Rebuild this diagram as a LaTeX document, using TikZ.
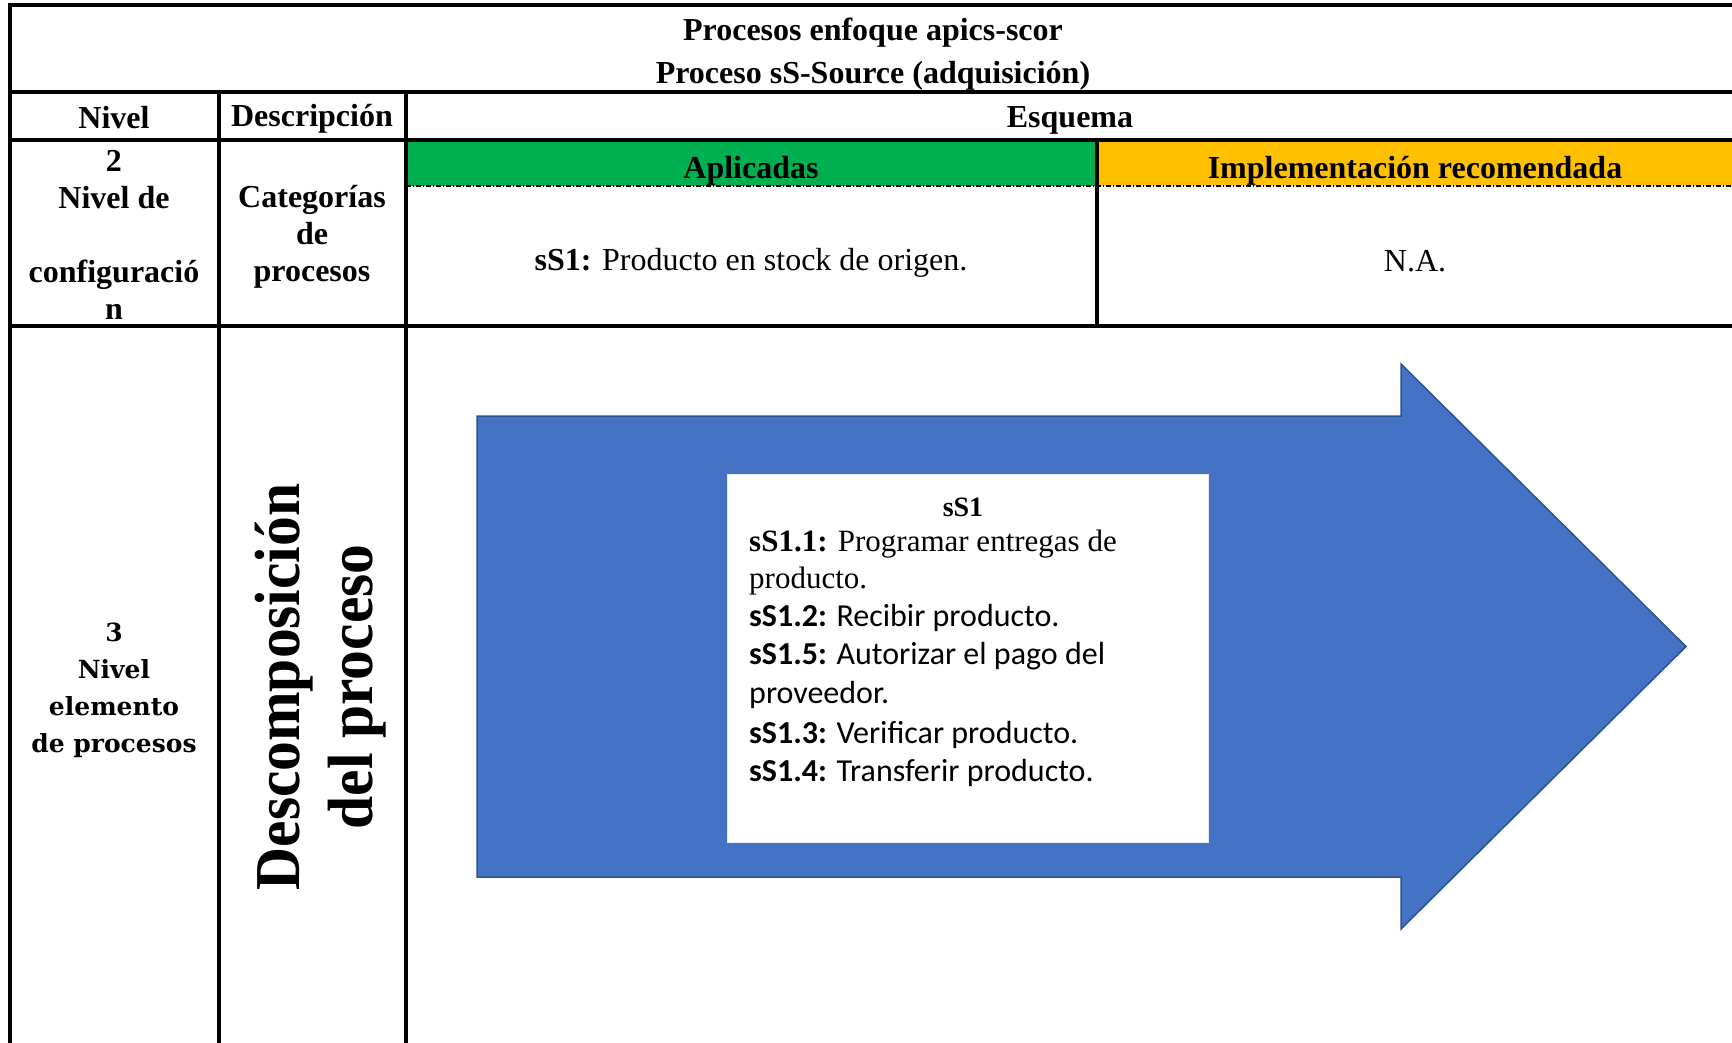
\documentclass[tikz,border=0pt]{standalone}
\usepackage{fontspec}
\usepackage{graphicx}
\setmainfont{Liberation Serif}
\newfontfamily\stepsans{Carlito}
\newfontfamily\wideserif{DejaVu Serif}
\definecolor{appgreen}{HTML}{00B050}
\definecolor{recorange}{HTML}{FFC000}
\definecolor{flowblue}{HTML}{4472C4}
\definecolor{flowedge}{HTML}{2F528F}

\begin{document}
\begin{tikzpicture}[x=1pt,y=-1pt,
  grid/.style={line width=3.5pt, line cap=rect},
  cell/.style={font=\fontsize{32}{37}\selectfont\bfseries, align=center, inner sep=0pt},
  plain/.style={font=\fontsize{32}{37}\selectfont, align=center, inner sep=0pt},
  levelcell/.style={font=\wideserif\fontsize{25}{37}\selectfont\bfseries, align=center, inner sep=0pt},
  bigcell/.style={font=\fontsize{64}{73}\selectfont\bfseries, align=center, inner sep=0pt, rotate=90},
  stepline/.style={anchor=base west, inner sep=0pt, font=\stepsans\fontsize{32}{38}\selectfont},
  serifline/.style={anchor=base west, inner sep=0pt, font=\fontsize{31}{38}\selectfont},
]
\useasboundingbox (0,0) rectangle (1732,1043);
\clip (0,0) rectangle (1732,1043);
\fill[white] (0,0) rectangle (1732,1043);

% coloured header bars of the Esquema column
\fill[appgreen] (406,140) rectangle (1097,186);
\fill[recorange] (1097,140) rectangle (1745,186);
\draw[line width=1.2pt, dash pattern=on 5pt off 2pt on 1pt off 2pt] (406,186) -- (1745,186);

% table rules
\draw[grid] (10,1060) -- (10,5) -- (1745,5);
\draw[grid] (10,92) -- (1745,92);
\draw[grid] (10,140) -- (1745,140);
\draw[grid] (10,326) -- (1745,326);
\draw[grid] (219,92) -- (219,1060);
\draw[grid] (406,92) -- (406,1060);
\draw[grid] (1097,140) -- (1097,326);

% title
\node[cell] (title1) at (873,33) {Procesos enfoque apics-scor};
\node[cell] (title2) at (873,76) {Proceso sS-Source (adquisición)};

% column headers
\node[cell] (hnivel) at (114,118) {Nivel};
\node[cell] (hdesc) at (312,119) {Descripción};
\node[cell] (hesq) at (1070,120) {Esquema};
\node[cell] (happ) at (751,171) {Aplicadas};
\node[cell] (himp) at (1415,171) {Implementación recomendada};

% level 2 row
\node[cell] (lvl2) at (114,235) {2\\Nivel de\\\mbox{}\\configuració\\n};
\node[cell] (cat2) at (312,237) {Categorías\\de\\procesos};
\node[plain] (app2) at (751,263) {\textbf{sS1:} Producto en stock de origen.};
\node[plain] (imp2) at (1415,261) {N.A.};

% level 3 row
\node[levelcell] (lvl3) at (114,690) {3\\Nivel\\elemento\\de procesos};
\node[bigcell] (cat3) at (321,687) {\scalebox{0.93}[1]{Descomposición}\\\scalebox{0.93}[1]{del proceso}};

% process flow arrow
\draw[fill=flowblue, draw=flowedge, line width=1.5pt, line join=miter]
  (477,416) -- (1401,416) -- (1401,364) -- (1686,646.5) -- (1401,929)
  -- (1401,877) -- (477,877) -- cycle;

% element list
\node[fill=white, draw=white!85!flowblue, line width=1pt, minimum width=481pt,
      minimum height=368pt, inner sep=0pt] (steps) at (967.5,658) {};
\node[anchor=base, inner sep=0pt, font=\fontsize{28}{34}\selectfont\bfseries] (sshead) at (963,516) {sS1};
\node[serifline] (s11) at (749,551) {\textbf{sS1.1:} Programar entregas de};
\node[serifline] (s11b) at (749,588) {producto.};
\node[stepline] (s12) at (749,626) {\textbf{sS1.2:} Recibir producto.};
\node[stepline] (s15) at (749,664) {\textbf{sS1.5:} Autorizar el pago del};
\node[stepline] (s15b) at (749,703) {proveedor.};
\node[stepline] (s13) at (749,743) {\textbf{sS1.3:} Verificar producto.};
\node[stepline] (s14) at (749,781) {\textbf{sS1.4:} Transferir producto.};
\end{tikzpicture}
\end{document}
